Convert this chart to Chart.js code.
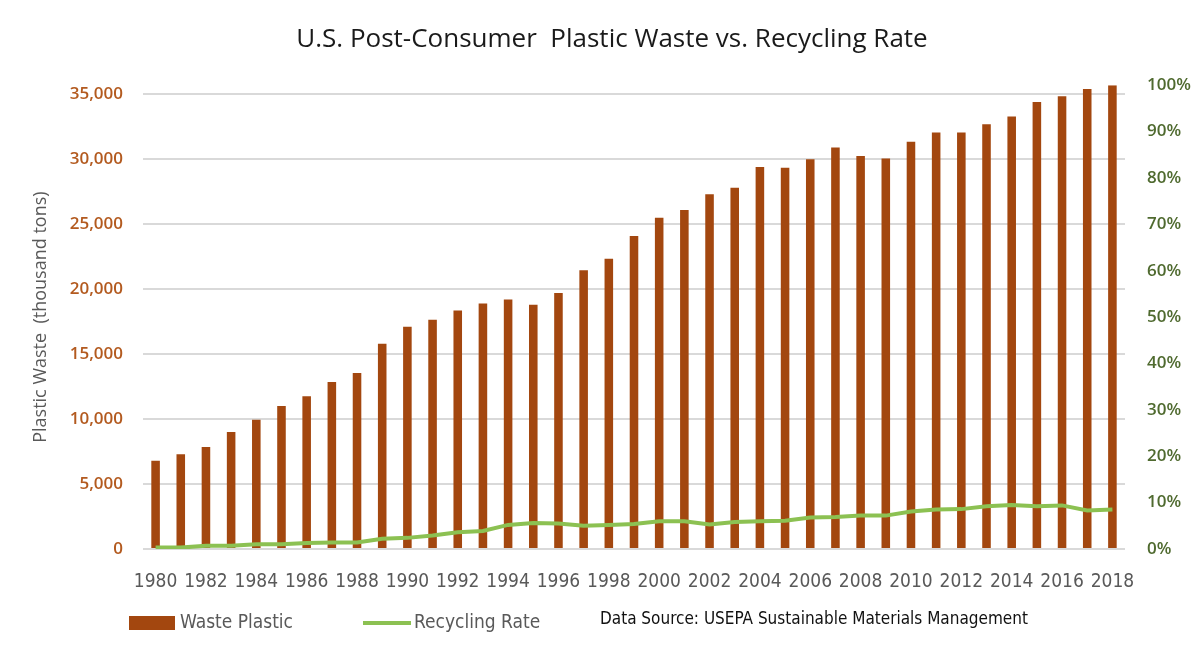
<!DOCTYPE html>
<html>
<head>
<meta charset="utf-8">
<script src="https://cdn.jsdelivr.net/npm/chart.js@4.4.1/dist/chart.umd.min.js"></script>
<style>
  html, body { margin: 0; padding: 0; background: #fff; }
  #wrap { position: relative; width: 1200px; height: 660px; }
  .lg { position: absolute; font-family: "Liberation Sans Narrow", "DejaVu Sans Condensed", Roboto, sans-serif; }
</style>
</head>
<body>
<div id="wrap">
  <canvas id="chart" width="1200" height="660"></canvas>
  <div class="lg" style="left:129px; top:616px; width:46px; height:14px; background:#a3470f;"></div>
  <div class="lg" style="left:180px; top:610px; font-size:19px; color:#595959;">Waste Plastic</div>
  <div class="lg" style="left:363px; top:621px; width:48px; height:4px; background:#8cc152;"></div>
  <div class="lg" style="left:414px; top:610px; font-size:19px; color:#595959;">Recycling Rate</div>
  <div class="lg" style="left:600px; top:608px; font-size:17px; color:#111;">Data Source: USEPA Sustainable Materials Management</div>
</div>
<script>
// U.S. post-consumer plastic waste (thousand tons) and recycling rate (%)
const years = [];
for (let y = 1980; y <= 2018; y++) years.push(String(y));

const wastePlastic = [6800, 7300, 7850, 9000, 9950, 11000, 11750, 12850, 13550, 15800,
  17100, 17650, 18350, 18900, 19200, 18800, 19700, 21450, 22350, 24100,
  25500, 26100, 27300, 27800, 29400, 29350, 30000, 30900, 30250, 30050,
  31350, 32050, 32050, 32700, 33300, 34400, 34850, 35400, 35700];

const recyclingRate = [0.3, 0.3, 0.7, 0.7, 1.0, 1.0, 1.3, 1.4, 1.4, 2.2,
  2.4, 2.9, 3.6, 3.9, 5.2, 5.6, 5.5, 5.0, 5.2, 5.4,
  6.0, 6.0, 5.3, 5.8, 6.0, 6.1, 6.8, 6.9, 7.2, 7.2,
  8.1, 8.5, 8.6, 9.2, 9.5, 9.2, 9.4, 8.3, 8.5];

const wasteTicks = [0, 5000, 10000, 15000, 20000, 25000, 30000, 35000];
const rateTicks = [0, 10, 20, 30, 40, 50, 60, 70, 80, 90, 100];

const narrowFont = '"Liberation Sans Narrow", "DejaVu Sans Condensed", Roboto, sans-serif';

new Chart(document.getElementById("chart"), {
  data: {
    labels: years,
    datasets: [
      {
        type: 'line',
        label: 'Recycling Rate',
        data: recyclingRate,
        yAxisID: 'y1',
        borderColor: '#8cc152',
        borderWidth: 4,
        pointRadius: 0,
        tension: 0,
        order: 0
      },
      {
        type: 'bar',
        label: 'Waste Plastic',
        data: wastePlastic,
        yAxisID: 'y',
        backgroundColor: '#a3470f',
        categoryPercentage: 1,
        barPercentage: 0.34,
        order: 1
      }
    ]
  },
  options: {
    responsive: false,
    animation: false,
    layout: { padding: { left: 24, right: 0, top: 0, bottom: 71 } },
    plugins: {
      legend: { display: false },
      tooltip: { enabled: false },
      title: {
        display: true,
        text: 'U.S. Post-Consumer  Plastic Waste vs. Recycling Rate',
        color: '#1a1a1a',
        font: { family: '"Open Sans", sans-serif', size: 26, weight: 'normal' },
        padding: { top: 24, bottom: 30 }
      }
    },
    scales: {
      x: {
        grid: { display: false },
        border: { display: false },
        ticks: {
          autoSkip: false,
          maxRotation: 0,
          padding: 14,
          color: '#595959',
          font: { family: narrowFont, size: 19 },
          callback: (v, i) => (i % 2 === 0 ? years[i] : '')
        },
        afterFit: s => { s.height = 40; }
      },
      y: {
        position: 'left',
        min: 0,
        max: 35700,
        afterBuildTicks: s => { s.ticks = wasteTicks.map(v => ({ value: v })); },
        grid: { color: '#d9d9d9', lineWidth: 2, drawTicks: false },
        border: { display: false },
        ticks: {
          padding: 20,
          color: '#b35a1f',
          font: { family: '"Open Sans", sans-serif', size: 17, weight: '600' },
          callback: v => v.toLocaleString('en-US')
        },
        title: {
          display: true,
          text: 'Plastic Waste  (thousand tons)',
          color: '#595959',
          font: { family: '"Open Sans", sans-serif', size: 18 },
          padding: { top: 6, bottom: 0 }
        },
        afterFit: s => { s.width = 143 - 24; }
      },
      y1: {
        position: 'right',
        min: 0,
        max: 100,
        afterBuildTicks: s => { s.ticks = rateTicks.map(v => ({ value: v })); },
        grid: { display: false, drawTicks: false },
        border: { display: false },
        ticks: {
          padding: 22,
          color: '#4f6a2f',
          font: { family: '"Open Sans", sans-serif', size: 17, weight: '600' },
          callback: v => v + '%'
        },
        afterFit: s => { s.width = 1200 - 1125; }
      }
    }
  }
});
</script>
</body>
</html>
